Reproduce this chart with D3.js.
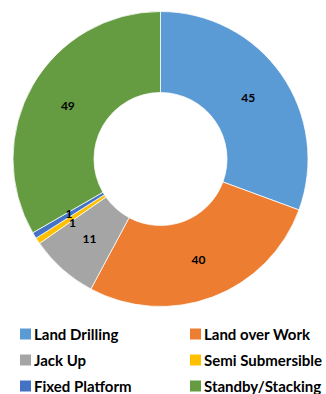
<!DOCTYPE html>
<html>
<head>
<meta charset="utf-8">
<script src="https://cdn.jsdelivr.net/npm/d3@7"></script>
<style>
  html, body { margin: 0; padding: 0; background: #fff; overflow: hidden; }
  svg { display: block; }
</style>
</head>
<body>
<svg id="chart" width="326" height="394"></svg>
<script>
// Rig counts by category
const categories = ["Land Drilling", "Land over Work", "Jack Up", "Semi Submersible", "Fixed Platform", "Standby/Stacking"];
const values = [45, 40, 11, 1, 1, 49];
const colors = ["#5B9BD5", "#ED7D31", "#A5A5A5", "#FFC000", "#4472C4", "#659C42"];

const svg = d3.select("#chart");
const cx = 160.5, cy = 159, outerR = 147.5, innerR = 66.5;

const data = categories.map((c, i) => ({ name: c, value: values[i], color: colors[i] }));

const pie = d3.pie().value(d => d.value).sort(null);
const arc = d3.arc().innerRadius(innerR).outerRadius(outerR);
const arcs = pie(data);

const g = svg.append("g").attr("transform", `translate(${cx},${cy})`);

g.selectAll("path.slice")
  .data(arcs)
  .join("path")
  .attr("class", "slice")
  .attr("d", arc)
  .attr("fill", d => d.data.color)
  .attr("stroke", "#fff")
  .attr("stroke-width", 0.75);

// Value labels at the ring centroid
const labelFont = "Lato, 'Open Sans', sans-serif";
g.selectAll("text.val")
  .data(arcs)
  .join("text")
  .attr("class", "val")
  .attr("x", (d, i) => arc.centroid(d)[0] + (i === 3 ? 1 : 0))
  .attr("y", (d, i) => arc.centroid(d)[1] + (i === 3 ? 4 : (i === 4 ? -1 : 0)))
  .attr("text-anchor", "middle")
  .attr("dominant-baseline", "central")
  .attr("font-family", labelFont)
  .attr("font-weight", "bold")
  .attr("font-size", 12)
  .attr("fill", "#000")
  .text(d => d.data.value);

// Legend: two columns, three rows
const legend = svg.append("g");
const colX = [20, 190], rowY = [334, 360, 386];
const items = legend.selectAll("g.item")
  .data(data)
  .join("g")
  .attr("class", "item")
  .attr("transform", (d, i) => `translate(${colX[i % 2]},${rowY[Math.floor(i / 2)]})`);

items.append("rect")
  .attr("x", 0).attr("y", -5.5)
  .attr("width", 11).attr("height", 11)
  .attr("fill", d => d.color);

items.append("text")
  .attr("x", 14)
  .attr("y", 0)
  .attr("dominant-baseline", "central")
  .attr("font-family", labelFont)
  .attr("font-weight", "bold")
  .attr("font-size", 15)
  .attr("fill", "#000")
  .text(d => d.name);
</script>
</body>
</html>
